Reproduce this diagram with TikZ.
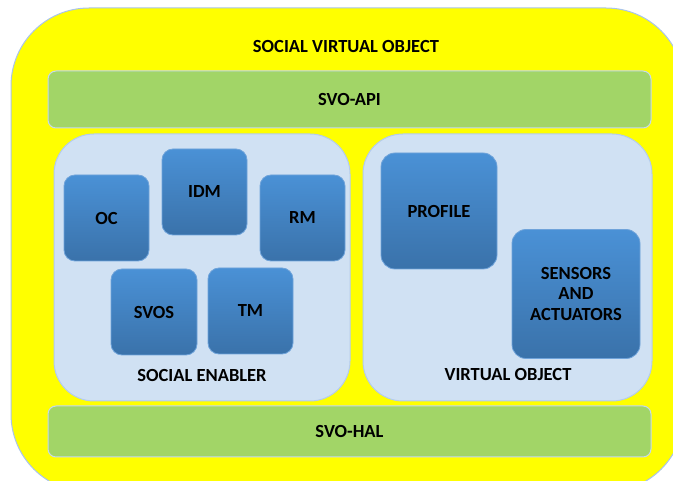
\documentclass[tikz,border=0pt]{standalone}
\usepackage{fontspec}
\setmainfont{Carlito}
\definecolor{yel}{HTML}{FFFF00}
\definecolor{outerline}{HTML}{A9C4EB}
\definecolor{grn}{HTML}{A2D567}
\definecolor{grnline}{HTML}{C5D9EE}
\definecolor{pnl}{HTML}{D0E1F3}
\definecolor{pnlline}{HTML}{B4CCEC}
\definecolor{btop}{HTML}{4A91D6}
\definecolor{bbot}{HTML}{3A72AA}
\definecolor{bline}{HTML}{6FA3DA}
\tikzset{
  lbl/.style={font=\fontsize{18.5}{21}\selectfont\bfseries, text=black},
  outerbox/.style={draw=outerline, line width=1pt, fill=yel, rounded corners=78pt, inner sep=0pt},
  bar/.style={draw=grnline, line width=1pt, fill=grn, rounded corners=8pt, inner sep=0pt, lbl},
  panel/.style={draw=pnlline, line width=1pt, fill=pnl, rounded corners=40pt, inner sep=0pt},
  blk/.style={draw=bline, line width=0.8pt, top color=btop, bottom color=bbot, rounded corners=11pt, inner sep=0pt, lbl, align=center},
}
\begin{document}
\begin{tikzpicture}[x=1pt,y=-1pt]
\useasboundingbox (0,0) rectangle (673,481);
\clip (0,0) rectangle (673,481);
\node[outerbox, minimum width=673pt, minimum height=484pt] (outer) at (347.5,250) {};
\node[lbl] (title) at (346,47) {SOCIAL VIRTUAL OBJECT};
\node[bar, minimum width=603pt, minimum height=57pt] (api) at (349.5,99.5) {SVO-API};
\node[bar, minimum width=603pt, minimum height=51pt] (hal) at (349.5,431.5) {SVO-HAL};
\node[panel, minimum width=296pt, minimum height=267pt] (se) at (202,267.5) {};
\node[panel, minimum width=289pt, minimum height=267pt] (vo) at (507.5,267.5) {};
\node[lbl] (selbl) at (202,375) {SOCIAL ENABLER};
\node[lbl] (volbl) at (508,375) {VIRTUAL OBJECT};
\node[blk, minimum width=85pt, minimum height=86pt] (oc) at (106.5,218) {OC};
\node[blk, minimum width=85pt, minimum height=86pt] (idm) at (204.5,192) {IDM};
\node[blk, minimum width=85pt, minimum height=86pt] (rm) at (302.5,218) {RM};
\node[blk, minimum width=86pt, minimum height=86pt] (svos) at (154,312) {SVOS};
\node[blk, minimum width=85pt, minimum height=86pt] (tm) at (250.5,311) {TM};
\node[blk, rounded corners=14pt, minimum width=116pt, minimum height=116pt] (profile) at (439,211) {PROFILE};
\node[blk, rounded corners=14pt, minimum width=128pt, minimum height=129pt, font=\fontsize{18.5}{20.5}\selectfont\bfseries] (sa) at (576,294) {SENSORS\\AND\\ACTUATORS};
\end{tikzpicture}
\end{document}
